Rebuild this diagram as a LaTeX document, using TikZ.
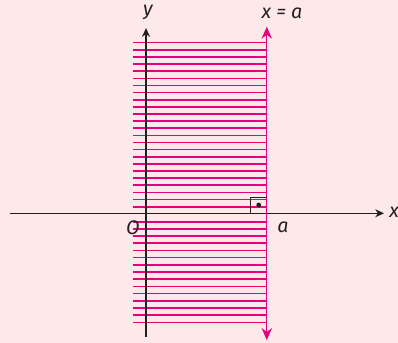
\documentclass[tikz,border=0pt]{standalone}
\usepackage{fontspec}
\setmainfont{Fira Sans}
\usepackage{tikz}
\usetikzlibrary{arrows.meta, positioning}
\definecolor{bgpink}{HTML}{FDE8EA}
\definecolor{magenta}{HTML}{E6007E}
\definecolor{axisblack}{HTML}{231F20}

\begin{document}
\begin{tikzpicture}[
  axis/.style={draw=axisblack, line width=1pt, -{Stealth[length=2.2mm, width=2mm]}},
  hatch/.style={draw=magenta, line width=1.15pt},
  border/.style={draw=magenta, line width=0.9pt, {Stealth[length=3mm, width=2.6mm]}-{Stealth[length=3mm, width=2.6mm]}},
  lbl/.style={font=\fontsize{14}{16}\selectfont\itshape, text=axisblack, inner sep=0pt}
]

\fill[bgpink] (-3.65, -3.2425) rectangle (6.3, 5.3325);
\useasboundingbox (-3.65, -3.2425) rectangle (6.3, 5.3325);

\coordinate (O) at (0, 0);
\coordinate (xstart) at (-3.4, 0);
\coordinate (xend) at (5.95, 0);
\coordinate (ystart) at (0, -3.09);
\coordinate (yend) at (0, 4.63);
\coordinate (lbot) at (3.02, -3.17);
\coordinate (ltop) at (3.02, 4.665);

% half plane x <= a
\foreach \k in {0,...,23}
  \draw[hatch] (-0.325, {0.165+\k*0.1783}) -- (3.02, {0.165+\k*0.1783});
\foreach \k in {0,...,14}
  \draw[hatch] (-0.325, {-0.21-\k*0.1797}) -- (3.02, {-0.21-\k*0.1797});

\draw[axis] (xstart) -- (xend);
\draw[axis] (ystart) -- (yend);
\draw[border] (lbot) -- (ltop);

% right angle
\draw[axisblack, line width=0.6pt] (2.6, 0) -- (2.6, 0.4) -- (3.02, 0.4);
\fill[axisblack] (2.8175, 0.2075) circle (0.06);

\node[lbl] (ylabel) at (0.05, 5.01) {y};
\node[lbl] (linelabel) at (3.4, 5.01) {x = a};
\node[lbl] (xlabel) at (6.2, 0.02) {x};
\node[lbl] (olabel) at (-0.325, -0.36) {O};
\node[lbl] (alabel) at (3.425, -0.36) {a};

\end{tikzpicture}
\end{document}
